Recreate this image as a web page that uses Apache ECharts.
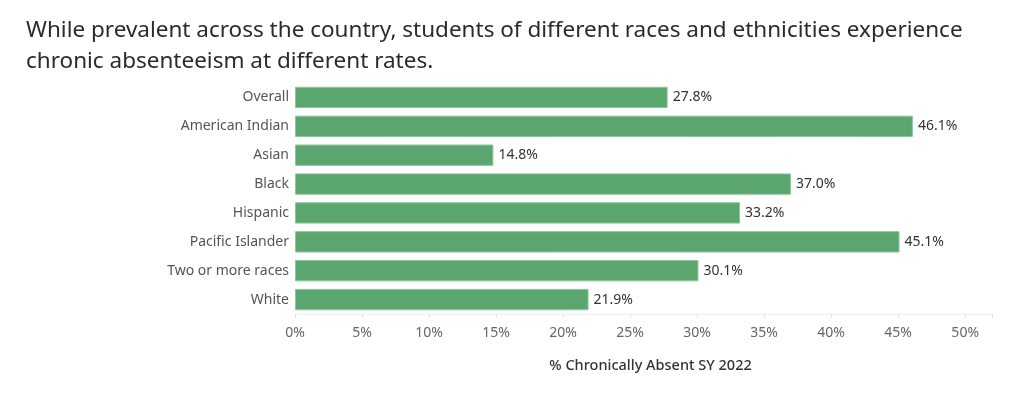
<!DOCTYPE html>
<html>
<head>
<meta charset="utf-8">
<script src="https://cdn.jsdelivr.net/npm/echarts@6/dist/echarts.min.js"></script>
<style>
html,body{margin:0;padding:0;background:#fff;}
#main{width:1024px;height:397px;}
</style>
</head>
<body>
<div id="main"></div>
<script>
var categories = ['Overall', 'American Indian', 'Asian', 'Black', 'Hispanic', 'Pacific Islander', 'Two or more races', 'White'];
var rates = [27.8, 46.1, 14.8, 37.0, 33.2, 45.1, 30.1, 21.9];
var tickLabels = ['0%', '5%', '10%', '15%', '20%', '25%', '30%', '35%', '40%', '45%', '50%'];

var myChart = echarts.init(document.getElementById('main'));

myChart.setOption({
    animation: false,
    title: {
        text: 'While prevalent across the country, students of different races and ethnicities experience\nchronic absenteeism at different rates.',
        left: 21,
        top: 10,
        textStyle: {
            fontFamily: 'Noto Sans',
            fontSize: 22.5,
            fontWeight: 'normal',
            color: '#2b2b2b',
            lineHeight: 31
        }
    },
    grid: {
        left: 295,
        right: 32,
        top: 83,
        bottom: 83,
        containLabel: false
    },
    xAxis: {
        type: 'value',
        min: 0,
        max: 52,
        interval: 5,
        name: '% Chronically Absent SY 2022',
        nameLocation: 'middle',
        nameGap: 44,
        nameTextStyle: {
            fontFamily: 'Noto Sans',
            fontSize: 14.5,
            fontWeight: 500,
            color: '#333',
            padding: [0, 0, 0, 14]
        },
        axisLine: {show: true, lineStyle: {color: '#eeeeee'}},
        axisTick: {show: true, length: 4, lineStyle: {color: '#e4e4e4'}},
        minorTick: {show: true, splitNumber: 5, length: 2, lineStyle: {color: '#eeeeee'}},
        splitLine: {show: false},
        axisLabel: {
            margin: 12,
            fontFamily: 'Noto Sans',
            fontSize: 14,
            color: '#666',
            showMaxLabel: false,
            formatter: function (v) {
                var i = v / 5;
                return Number.isInteger(i) && tickLabels[i] ? tickLabels[i] : '';
            }
        }
    },
    yAxis: {
        type: 'category',
        data: categories,
        inverse: true,
        axisLine: {show: false},
        axisTick: {show: false},
        axisLabel: {
            margin: 6,
            fontFamily: 'Noto Sans',
            fontSize: 14,
            color: '#555'
        }
    },
    series: [{
        type: 'bar',
        data: rates,
        barCategoryGap: '26%',
        itemStyle: {
            color: '#5ba66f',
            borderColor: '#8cc79b',
            borderWidth: 1
        },
        label: {
            show: true,
            position: 'right',
            distance: 5,
            fontFamily: 'Noto Sans',
            fontSize: 14,
            color: '#333',
            formatter: function (p) {
                return p.value.toFixed(1) + '%';
            }
        }
    }]
});
</script>
</body>
</html>
